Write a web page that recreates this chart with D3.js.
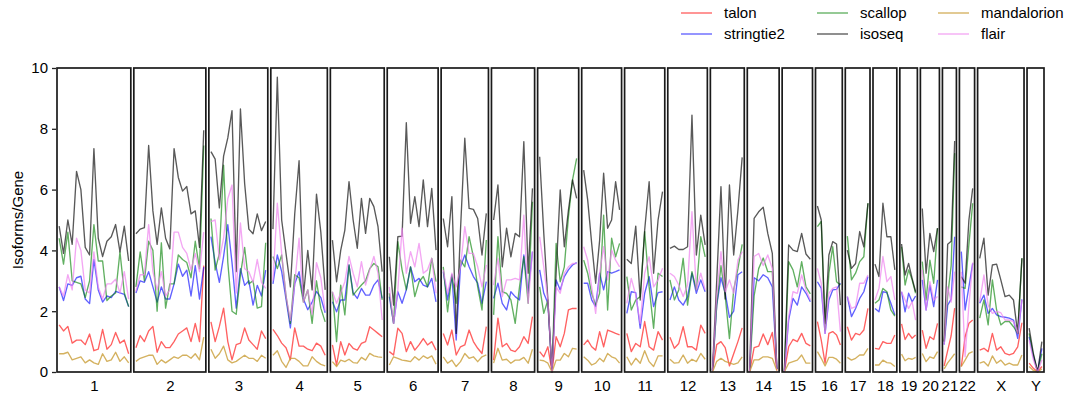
<!DOCTYPE html>
<html>
<head>
<meta charset="utf-8">
<script src="https://cdn.jsdelivr.net/npm/d3@7"></script>
<style>
  body { margin: 0; background: #fff; }
  svg { font-family: "Liberation Sans", Arial, Helvetica, sans-serif; }
  .axis text { font-size: 15px; fill: #000; }
  .axis line { stroke: #222; stroke-width: 1.3; }
  .axis path { display: none; }
</style>
</head>
<body>
<script>
// chromosomes and their lengths (Mb), panels are sized on these
const chromosomes = ['1','2','3','4','5','6','7','8','9','10','11','12','13','14','15','16','17','18','19','20','21','22','X','Y'];
const chromLengthMb = [248,242,198,190,181,171,159,145,138,134,135,133,114,107,102,90,83,80,59,64,47,51,156,57];

const seriesNames = ['talon','stringtie2','scallop','isoseq','mandalorion','flair'];

// isoforms per gene, one list per chromosome
const talon = [
  [1.55,1.35,1.5,0.95,1.05,1.05,0.9,1.25,0.7,0.75,1.4,0.75,0.9,1.3,0.95,1.05,0.6],
  [0.8,1.2,1.0,1.35,1.5,0.65,1.0,0.8,0.8,1.0,1.25,1.35,1.45,1.0,1.6,1.0,3.5],
  [1.65,1.0,1.5,2.1,1.0,0.4,0.9,0.95,1.45,1.05,0.9,0.75,1.35,1.1],
  [1.4,1.2,0.95,0.8,0.4,1.45,0.85,0.85,0.75,0.7,0.95,0.85,0.55],
  [0.89,0.23,1.0,0.56,0.94,0.78,0.72,0.94,1.0,1.49,1.38,1.27,1.16],
  [0.67,0.56,1.44,1.27,0.67,1.0,0.72,0.89,1.1,0.89,1.0,0.72],
  [1.27,0.89,1.38,0.56,0.83,0.89,1.38,1.0,0.78,0.61,1.49],
  [0.39,1.77,0.83,0.94,0.72,0.67,0.83,1.16,0.94,1.82],
  [0.67,0.5,0.83,0,1.16,0.83,1.27,2.04,2.09,2.09],
  [0.89,1.05,0.83,0.72,1.33,0.83,1.38,1.33,1.27,1.22],
  [1.27,0.67,0.94,0.83,1.66,0.83,0.72,1.33,1.05],
  [1.14,0.78,0.94,1.49,0.83,0.83,0.72,1.54,1.27],
  [0.05,0.9,1.0,0.8,0.2,0.6,1.0,1.45],
  [0,0.8,0.85,1.25,0.9,1.3,0.05],
  [0,0.83,1.07,1.0,1.27,0.94,0.86],
  [1.66,1.05,0.29,1.27,1.33,1.22,0.89],
  [1.49,1.05,1.27,1.22,1.38,2.09],
  [0.78,0.75,1.0,0.94,0.94,1.22],
  [1.58,1.07,1.27,1.11,1.22],
  [1.38,0.78,1.16,1.07,1.6],
  [0.2,0.7,1.2,2.1],
  [0.18,1.16,1.6,1.71],
  [0.72,0.78,0.67,1.27,0.72,0.83,0.61,0.56,0.61,0.83,1.62],
  [0.29,0.12,0,0.18]
];
const stringtie2 = [
  [2.8,2.35,2.9,2.85,3.1,3.15,2.4,2.25,3.7,2.7,2.3,2.5,2.45,2.65,2.6,2.55,2.15],
  [2.6,3.0,2.95,3.3,2.8,2.3,2.8,2.4,2.4,2.9,3.55,3.15,3.35,2.5,3.5,2.4,3.45],
  [4.45,3.6,2.95,3.8,4.85,3.6,2.1,3.4,2.85,3.0,2.2,2.85,2.5,3.35],
  [2.9,3.85,3.3,2.4,1.45,2.9,3.3,2.4,2.05,2.3,2.65,2.45,1.95],
  [2.31,1.98,2.37,2.37,3.52,2.6,2.42,2.75,2.53,2.53,2.86,3.03,2.42],
  [2.48,1.6,2.64,2.26,2.7,3.46,2.97,3.08,2.86,2.8,3.08,2.31],
  [3.3,2.37,3.19,1.05,3.46,3.85,3.46,3.14,2.92,2.26,2.97],
  [2.42,2.92,2.26,2.04,2.64,2.48,2.37,3.85,2.59,3.96],
  [3.36,2.59,2.26,0,3.03,2.7,3.14,3.36,3.52,3.6],
  [2.92,2.92,2.37,2.15,3.25,2.7,3.3,3.25,3.3,3.36],
  [1.93,2.64,2.61,1.44,2.59,3.14,2.15,2.61,2.64],
  [2.37,2.8,2.37,2.2,2.48,3.25,2.59,3.03,2.64],
  [0.05,2.2,3.1,2.6,1.8,2.0,3.2,3.3],
  [0,3.1,3.0,3.2,3.1,2.8,0.1],
  [0,1.71,2.42,2.2,2.8,2.59,2.31],
  [2.97,2.75,1.27,2.37,2.7,2.72,2.92],
  [2.48,1.82,2.09,2.42,2.64,3.14],
  [2.09,1.98,2.64,2.61,2.26,1.88],
  [2.64,1.98,2.59,2.31,2.5],
  [3.03,2.04,2.86,2.15,3.03],
  [0.9,2.2,2.4,4.45],
  [3.96,2.04,2.8,3.57],
  [2.26,2.53,1.93,2.09,1.88,1.82,1.8,1.77,1.71,1.11,2.39],
  [1.16,0.5,0,0.78]
];
const scallop = [
  [4.4,3.55,4.6,3.0,2.95,2.9,2.45,3.0,4.85,3.65,3.65,2.35,2.5,2.6,3.95,2.6,2.15],
  [2.8,3.95,3.0,4.3,4.0,2.0,4.25,2.1,2.9,2.9,3.85,3.7,3.6,3.1,4.3,3.4,7.45],
  [5.05,3.35,3.9,6.8,3.6,2.0,1.9,3.2,4.1,2.9,3.0,2.1,2.15,4.25],
  [3.8,3.4,3.85,2.5,1.6,3.2,3.1,2.3,2.7,1.6,3.0,2.1,1.65],
  [2.64,1.0,2.86,1.88,3.52,2.53,2.7,2.86,3.0,3.4,3.57,3.46,2.37],
  [2.59,1.6,4.29,3.36,2.7,3.46,2.48,2.97,3.14,2.8,3.74,2.97],
  [3.46,1.98,3.19,2.26,3.68,3.46,4.45,3.79,2.8,2.04,4.34],
  [1.88,4.45,2.64,2.59,2.37,1.6,2.8,3.79,2.26,5.6],
  [2.8,1.93,2.37,0,4.23,2.97,3.46,5.1,6.32,7.03],
  [3.68,3.25,2.59,2.2,2.59,5.16,2.04,4.4,3.79,4.23],
  [3.14,2.04,2.37,2.48,4.62,2.8,1.44,3.25,3.14],
  [3.03,2.37,2.7,3.74,2.2,3.3,2.7,4.45,3.79],
  [0.05,2.2,3.5,2.5,1.1,2.7,3.4,4.2],
  [0,2.5,3.4,3.75,3.3,3.3,0.1],
  [0,3.63,3.36,2.8,3.63,2.8,2.57],
  [4.78,4.95,1.38,3.25,4.12,2.97,2.86],
  [4.47,3.03,3.25,3.63,3.79,5.55],
  [2.26,2.37,2.75,2.64,2.04,1.84],
  [4.12,2.86,3.36,3.03,2.59],
  [3.63,2.37,3.68,2.92,4.73],
  [1.0,2.5,3.5,7.2],
  [2.8,2.75,4.2,5.55],
  [1.77,2.37,1.55,3.03,2.04,1.55,1.66,1.66,1.49,1.27,3.74],
  [1.27,0.55,0,0.6]
];
const isoseq = [
  [4.8,3.9,5.0,4.2,6.6,6.0,4.1,3.85,7.35,4.4,3.8,4.3,4.45,4.85,3.95,4.8,3.65],
  [4.55,4.7,4.75,7.45,5.3,4.2,5.4,4.4,4.05,7.35,6.4,5.95,6.1,5.2,5.3,4.1,7.95],
  [7.25,7.0,5.4,7.1,7.7,8.6,3.3,8.65,6.2,4.7,4.55,5.2,4.65,4.95],
  [4.7,9.7,5.0,3.9,2.8,5.2,6.95,2.5,4.0,2.7,5.85,4.6,2.7],
  [4.34,2.97,4.0,4.67,6.26,5.0,4.07,5.71,4.56,5.71,5.44,4.78,3.3],
  [3.79,2.2,4.45,4.47,8.2,4.89,5.77,4.78,6.32,4.78,6.04,4.01],
  [5.05,4.12,5.77,1.27,4.67,7.69,5.38,5.35,5.05,3.85,5.22],
  [5.0,6.15,3.46,4.73,3.79,4.56,4.45,7.58,3.25,6.04],
  [7.08,4.56,2.37,0,3.25,5.99,4.12,5.33,6.32,5.71],
  [6.64,5.66,4.23,2.92,4.34,6.54,4.73,5.0,6.26,5.33],
  [3.71,3.57,4.8,2.37,4.67,6.26,3.25,5.0,5.93],
  [4.07,4.14,4.03,4.03,4.12,8.45,3.85,5.16,4.18],
  [0.05,3.0,6.1,2.4,6.15,3.85,5.33,7.06],
  [0,5.05,5.27,5.42,4.56,3.9,0.1],
  [0,4.18,4.01,3.96,4.56,3.88,3.71],
  [5.46,5.0,1.6,3.85,4.29,4.21,2.2],
  [4.01,3.41,3.57,4.62,4.12,5.55],
  [3.55,3.14,5.55,4.45,4.45,3.36],
  [4.21,3.19,3.57,3.08,2.64],
  [5.38,3.25,4.56,3.96,4.73],
  [1.0,4.2,4.3,7.6],
  [3.14,2.92,5.0,6.04],
  [3.74,4.4,2.53,3.52,3.55,3.03,2.48,2.53,2.37,1.27,3.74],
  [1.44,0.6,0,1.0]
];
const mandalorion = [
  [0.6,0.6,0.65,0.4,0.45,0.5,0.3,0.4,0.3,0.25,0.6,0.35,0.4,0.65,0.35,0.5,0.3],
  [0.35,0.45,0.5,0.55,0.55,0.25,0.4,0.3,0.4,0.5,0.45,0.55,0.55,0.45,0.6,0.4,1.15],
  [0.75,0.45,0.6,0.85,0.4,0.3,0.35,0.45,0.55,0.45,0.45,0.35,0.55,0.45],
  [0.55,0.7,0.35,0.15,0.45,0.45,0.35,0.2,0.2,0.5,0.35,0.25,0.2],
  [0.34,0.18,0.39,0.34,0.42,0.31,0.29,0.48,0.39,0.61,0.53,0.5,0.48],
  [0.23,0.5,0.45,0.39,0.37,0.34,0.5,0.39,0.53,0.45,0.53,0.26],
  [0.5,0.29,0.39,0.18,0.34,0.61,0.45,0.5,0.34,0.5,0.56],
  [0.29,0.78,0.39,0.42,0.29,0.39,0.39,0.48,0.29,0.75],
  [0.39,0.37,0.29,0,0.39,0.39,0.61,0.5,0.78,0.75],
  [0.5,0.39,0.23,0.29,0.45,0.34,0.61,0.5,0.45,0.29],
  [0.5,0.23,0.45,0.29,0.7,0.34,0.18,0.53,0.53],
  [0.42,0.29,0.31,0.56,0.29,0.42,0.34,0.61,0.42],
  [0,0.35,0.45,0.35,0.3,0.25,0.3,0.5],
  [0,0.4,0.4,0.5,0.5,0.45,0.05],
  [0,0.29,0.34,0.39,0.56,0.29,0.29],
  [0.67,0.45,0.2,0.48,0.48,0.42,0.29],
  [0.48,0.39,0.45,0.56,0.56,0.78],
  [0.23,0.23,0.39,0.31,0.29,0.18],
  [0.59,0.37,0.45,0.42,0.48],
  [0.61,0.34,0.5,0.45,0.67],
  [0.1,0.3,0.45,0.6],
  [0.18,0.39,0.61,0.67],
  [0.29,0.34,0.2,0.53,0.29,0.39,0.23,0.29,0.23,0.23,0.56],
  [0.18,0.05,0,0.1]
];
const flair = [
  [2.8,2.5,3.2,2.7,4.4,4.0,2.7,2.6,3.95,2.8,2.4,2.9,2.9,3.05,2.6,3.3,2.4],
  [2.65,3.2,3.2,4.85,3.3,2.7,3.3,2.5,2.7,4.6,4.6,4.1,3.9,3.35,3.9,3.3,4.6],
  [4.95,5.0,3.7,4.4,5.7,6.15,2.6,4.9,3.4,3.3,2.95,3.7,2.95,2.75],
  [3.0,5.55,3.9,2.5,1.7,2.9,4.4,2.3,2.7,1.9,3.6,3.1,2.0],
  [2.64,2.26,2.6,2.97,3.8,3.25,2.8,3.63,2.86,3.36,3.8,3.25,1.71],
  [2.8,1.6,2.7,4.73,3.25,3.96,3.46,4.23,3.25,3.36,3.74,2.59],
  [3.36,2.59,3.25,2.8,3.46,4.78,3.9,3.9,3.46,2.8,3.52],
  [2.86,3.74,2.48,3.03,3.03,3.08,3.03,5.16,2.26,3.96],
  [4.45,3.46,2.37,0,2.8,2.59,3.25,3.46,3.57,3.57],
  [4.12,3.68,2.8,1.93,3.25,4.12,3.03,4.01,3.68,3.46],
  [2.26,3.08,2.53,1.6,3.25,3.79,2.8,3.03,3.41],
  [3.25,3.14,2.86,2.48,2.86,5.27,2.7,3.25,2.7],
  [0.05,2.5,3.96,2.64,3.03,2.59,3.68,3.96],
  [0,3.8,3.9,3.5,3.85,3.4,0.1],
  [0,1.82,2.64,2.59,3.19,2.7,2.37],
  [3.41,2.92,1.27,2.59,2.75,2.8,1.33],
  [2.48,2.09,2.15,2.92,2.92,3.19],
  [2.37,2.75,3.8,2.97,3.14,2.37],
  [2.64,2.37,2.09,2.31,1.71],
  [3.36,2.04,2.97,2.37,2.48],
  [0.9,2.8,2.3,3.3],
  [3.3,0.5,2.2,3.6],
  [2.31,3.19,2.2,1.93,1.99,1.95,1.71,1.71,1.66,1.27,2.37],
  [1.05,0.4,0,0.4]
];

const yTicks = [0, 2, 4, 6, 8, 10];

const seriesData = { talon, stringtie2, scallop, isoseq, mandalorion, flair };
const colors = {
  talon: 'rgba(255,0,0,0.62)',
  stringtie2: 'rgba(0,0,255,0.62)',
  scallop: 'rgba(0,128,0,0.62)',
  isoseq: 'rgba(0,0,0,0.65)',
  mandalorion: 'rgba(200,155,50,0.78)',
  flair: 'rgba(238,130,238,0.7)'
};

const W = 1068, H = 398;
const margin = { top: 68, right: 24, bottom: 26, left: 57 };
const gap = 3;

const svg = d3.select('body').append('svg')
  .attr('width', W)
  .attr('height', H);

// y scale shared by every panel
const y = d3.scaleLinear().domain([0, 10]).range([H - margin.bottom, margin.top]);

// panel widths follow chromosome length
const totalLen = d3.sum(chromLengthMb);
const usable = W - margin.left - margin.right - gap * (chromosomes.length - 1);
let cursor = margin.left;
const panels = chromosomes.map((c, i) => {
  const w = usable * chromLengthMb[i] / totalLen;
  const p = { chr: c, i, x0: cursor, x1: cursor + w };
  cursor += w + gap;
  return p;
});

// lines
panels.forEach(p => {
  const g = svg.append('g').attr('class', 'panel');
  seriesNames.forEach(name => {
    const vals = seriesData[name][p.i];
    const x = d3.scalePoint().domain(d3.range(vals.length)).range([p.x0, p.x1]).padding(0.5);
    const line = d3.line().x((d, j) => x(j)).y(d => y(d));
    g.append('path')
      .datum(vals)
      .attr('d', line)
      .attr('fill', 'none')
      .attr('stroke', colors[name])
      .attr('stroke-width', 1.35)
      .attr('stroke-linejoin', 'round');
  });
  g.append('rect')
    .attr('x', p.x0)
    .attr('y', y(10))
    .attr('width', p.x1 - p.x0)
    .attr('height', y(0) - y(10))
    .attr('fill', 'none')
    .attr('stroke', '#1a1a1a')
    .attr('stroke-width', 1.7);
});

// y axis
svg.append('g')
  .attr('class', 'axis')
  .attr('transform', `translate(${margin.left - 1},0)`)
  .call(d3.axisLeft(y).tickValues(yTicks).tickSize(4).tickPadding(4));

// x labels, one per panel
const xLab = d3.scaleOrdinal().domain(chromosomes).range(panels.map(p => (p.x0 + p.x1) / 2));
svg.append('g')
  .attr('class', 'axis')
  .attr('transform', `translate(0,${y(0)})`)
  .call(d3.axisBottom(xLab).tickSize(0).tickPadding(8));

// y title
svg.append('text')
  .attr('transform', `translate(23,${(y(0) + y(10)) / 2}) rotate(-90)`)
  .attr('text-anchor', 'middle')
  .style('font-size', '15px')
  .text('Isoforms/Gene');

// legend, filled column by column
const legend = svg.append('g');
const colX = [681, 817, 938];
const rowY = [13, 34];
seriesNames.forEach((name, k) => {
  const cx = colX[Math.floor(k / 2)], cy = rowY[k % 2];
  legend.append('line')
    .attr('x1', cx).attr('x2', cx + 31)
    .attr('y1', cy).attr('y2', cy)
    .attr('stroke', colors[name])
    .attr('stroke-width', 1.35);
  legend.append('text')
    .attr('x', cx + 43)
    .attr('y', cy)
    .attr('dy', '0.35em')
    .style('font-size', '15px')
    .text(name);
});
</script>
</body>
</html>
